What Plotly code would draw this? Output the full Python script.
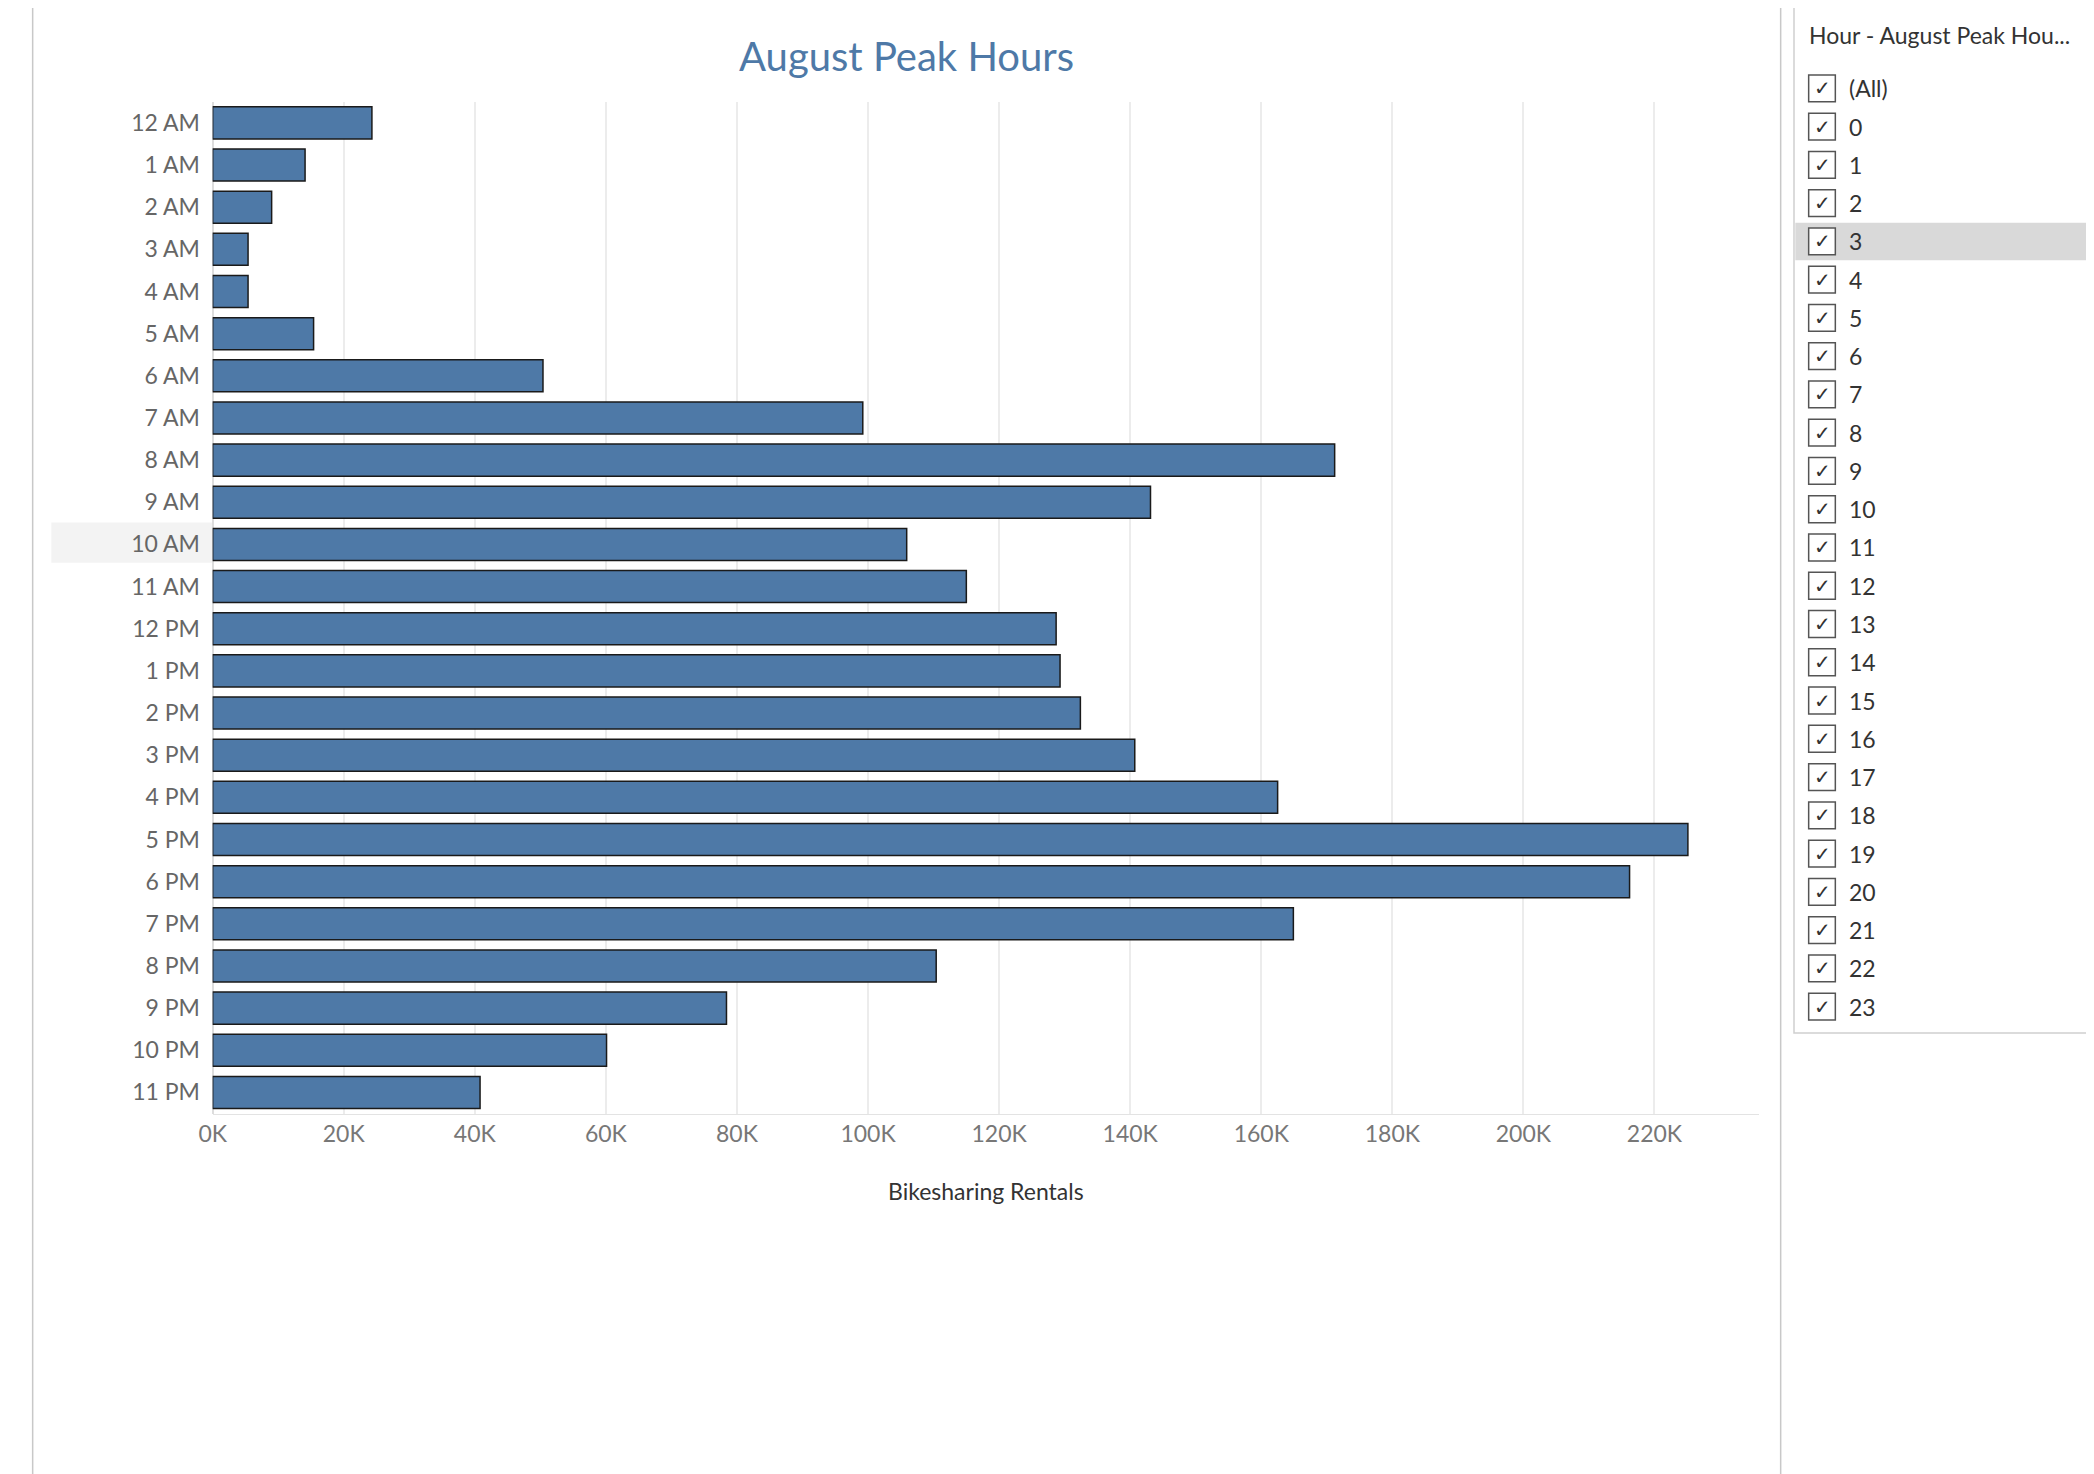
import plotly.graph_objects as go

hours = ["12 AM","1 AM","2 AM","3 AM","4 AM","5 AM","6 AM","7 AM","8 AM","9 AM","10 AM","11 AM",
         "12 PM","1 PM","2 PM","3 PM","4 PM","5 PM","6 PM","7 PM","8 PM","9 PM","10 PM","11 PM"]
rentals = [24300,14100,9000,5400,5400,15400,50400,99200,171200,143100,105900,115000,
           128700,129300,132400,140700,162500,225100,216200,164900,110400,78400,60100,40800]
tick_vals = [0,20000,40000,60000,80000,100000,120000,140000,160000,180000,200000,220000]
tick_text = ["0K","20K","40K","60K","80K","100K","120K","140K","160K","180K","200K","220K"]
filter_items = ["(All)"] + [str(i) for i in range(24)]

W, H = 1560, 1100
def px(x): return x / W
def py(y): return 1 - y / H

FONT = "Lato"
fig = go.Figure(go.Bar(
    y=hours, x=rentals, orientation="h",
    marker=dict(color="#4e79a7", line=dict(color="#1a1a1a", width=1.5)),
    hoverinfo="x+y"))

fig.update_layout(
    width=2094, height=1474, margin=dict(l=0, r=0, t=0, b=0),
    paper_bgcolor="white", plot_bgcolor="white", bargap=0.24, showlegend=False,
    font=dict(family=FONT, color="#666666", size=23),
    xaxis=dict(domain=[px(143), px(1303)], range=[0, 236000], tickvals=tick_vals,
               ticktext=tick_text, showgrid=True, gridcolor="#ececec", gridwidth=1.5,
               zeroline=True, zerolinecolor="#dddddd", showline=True, linecolor="#e3e3e3",
               ticks="", tickfont=dict(size=23, color="#777777"), fixedrange=True),
    yaxis=dict(domain=[py(825), py(70)], categoryorder="array",
               categoryarray=hours[::-1], ticks="", showgrid=False,
               tickfont=dict(size=23, color="#666666"), ticksuffix="  "),
)

shapes = []
ann = []
# container frame
shapes.append(dict(type="rect", xref="paper", yref="paper", x0=px(8), x1=px(1319), y0=py(1095), y1=py(-5),
                   line=dict(color="#c8c8c8", width=1.5), fillcolor="rgba(0,0,0,0)"))
# highlight 10 AM label
shapes.append(dict(type="rect", xref="paper", yref="paper", x0=px(22), x1=px(143), y0=py(414), y1=py(384),
                   line=dict(width=0), fillcolor="#f3f3f3", layer="below"))
# filter panel
shapes.append(dict(type="rect", xref="paper", yref="paper", x0=px(1329), x1=px(1558), y0=py(765), y1=py(-5),
                   line=dict(color="#d0d0d0", width=1.5), fillcolor="rgba(0,0,0,0)"))
ann.append(dict(text="Hour - August Peak Hou...", xref="paper", yref="paper", x=px(1339), y=py(20),
                xanchor="left", yanchor="middle", showarrow=False, font=dict(size=23, color="#333333")))
for i, item in enumerate(filter_items):
    yc = 60 + i * 28.55
    if item == "3":
        shapes.append(dict(type="rect", xref="paper", yref="paper", x0=px(1330), x1=px(1557),
                           y0=py(yc + 14), y1=py(yc - 14), line=dict(width=0), fillcolor="#d9d9d9", layer="below"))
    shapes.append(dict(type="rect", xref="paper", yref="paper", x0=px(1340), x1=px(1360),
                       y0=py(yc + 10), y1=py(yc - 10), line=dict(color="#555555", width=1.5),
                       fillcolor="white", layer="below"))
    ann.append(dict(text="✓", xref="paper", yref="paper", x=px(1350), y=py(yc), xanchor="center",
                    yanchor="middle", showarrow=False, font=dict(size=20, color="#333333", family="DejaVu Sans")))
    ann.append(dict(text=item, xref="paper", yref="paper", x=px(1369), y=py(yc), xanchor="left",
                    yanchor="middle", showarrow=False, font=dict(size=23, color="#333333")))

ann.append(dict(text="August Peak Hours", xref="paper", yref="paper", x=px(663), y=py(36),
                xanchor="center", yanchor="middle", showarrow=False, font=dict(size=40, color="#4e79a7")))
ann.append(dict(text="Bikesharing Rentals", xref="paper", yref="paper", x=px(723), y=py(883),
                xanchor="center", yanchor="middle", showarrow=False, font=dict(size=23, color="#333333")))

fig.update_layout(shapes=shapes, annotations=ann)
fig.write_html("out.html")
